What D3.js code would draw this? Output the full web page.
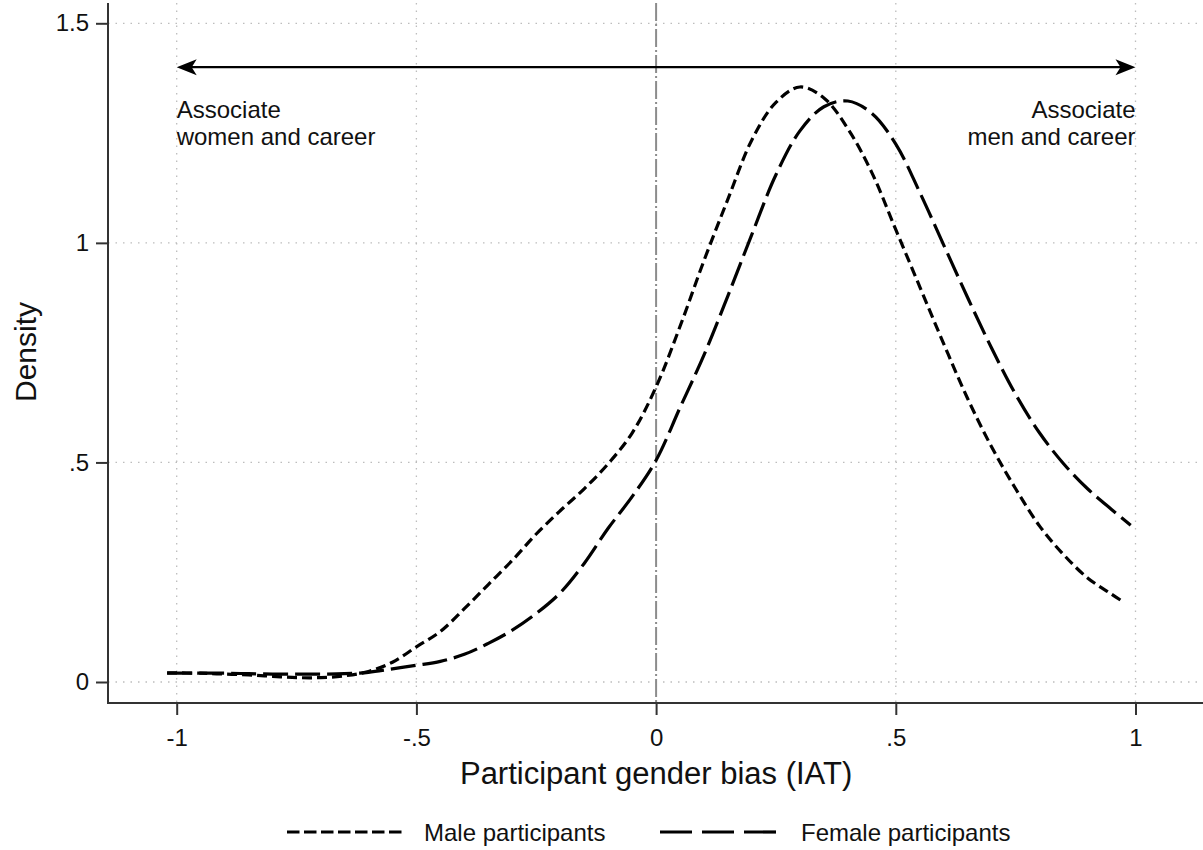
<!DOCTYPE html>
<html>
<head>
<meta charset="utf-8">
<script src="https://cdn.jsdelivr.net/npm/d3@7"></script>
<style>
  html, body { margin: 0; padding: 0; background: #fff; }
  svg { display: block; }
  text { font-family: "Liberation Sans", Arial, sans-serif; fill: #111; }
</style>
</head>
<body>
<svg id="chart" width="1203" height="850"></svg>
<script>
// ---- data ----
const maleX = [-1.02, -0.95, -0.9, -0.85, -0.8, -0.75, -0.7, -0.65, -0.6, -0.55, -0.5, -0.45, -0.4, -0.35, -0.3, -0.25, -0.2, -0.15, -0.1, -0.05, 0, 0.05, 0.1, 0.15, 0.2, 0.25, 0.3, 0.35, 0.4, 0.45, 0.5, 0.55, 0.6, 0.65, 0.7, 0.75, 0.8, 0.85, 0.9, 0.95, 0.975];
const maleY = [0.021, 0.02, 0.018, 0.016, 0.013, 0.01, 0.01, 0.014, 0.024, 0.045, 0.08, 0.115, 0.167, 0.222, 0.277, 0.337, 0.39, 0.44, 0.497, 0.567, 0.672, 0.81, 0.96, 1.10, 1.235, 1.32, 1.355, 1.33, 1.26, 1.16, 1.03, 0.9, 0.77, 0.645, 0.535, 0.44, 0.355, 0.29, 0.237, 0.2, 0.182];
const femaleX = [-1.02, -0.95, -0.9, -0.85, -0.8, -0.75, -0.7, -0.65, -0.6, -0.55, -0.5, -0.45, -0.4, -0.35, -0.3, -0.25, -0.2, -0.15, -0.1, -0.05, 0, 0.05, 0.1, 0.15, 0.2, 0.25, 0.3, 0.35, 0.4, 0.45, 0.5, 0.55, 0.6, 0.65, 0.7, 0.75, 0.8, 0.85, 0.9, 0.95, 0.99];
const femaleY = [0.02, 0.02, 0.02, 0.019, 0.018, 0.018, 0.018, 0.019, 0.022, 0.03, 0.038, 0.047, 0.063, 0.088, 0.118, 0.156, 0.203, 0.27, 0.35, 0.422, 0.505, 0.625, 0.745, 0.88, 1.02, 1.155, 1.255, 1.31, 1.323, 1.295, 1.225, 1.115, 0.995, 0.875, 0.76, 0.655, 0.567, 0.497, 0.44, 0.393, 0.357];
const xTicks = [-1, -0.5, 0, 0.5, 1];
const xTickLabels = ["-1", "-.5", "0", ".5", "1"];
const yTicks = [0, 0.5, 1, 1.5];
const yTickLabels = ["0", ".5", "1", "1.5"];
const seriesNames = ["Male participants", "Female participants"];
const arrowY = 1.4;
const leftNote = ["Associate", "women and career"];
const rightNote = ["Associate", "men and career"];

// ---- layout ----
const svg = d3.select("#chart");
const plotLeft = 108, plotRight = 1203, plotTop = 3, plotBottom = 703;
const x = d3.scaleLinear().domain([-1, 1]).range([176.7, 1135.5]);
const y = d3.scaleLinear().domain([0, 1.5]).range([682, 23.3]);

// gridlines
const grid = svg.append("g");
grid.selectAll("line.hg").data(yTicks).join("line")
  .attr("x1", plotLeft).attr("x2", plotRight)
  .attr("y1", d => y(d)).attr("y2", d => y(d))
  .attr("stroke", "#bdbdbd").attr("stroke-width", 1.3).attr("stroke-dasharray", "1.5,6");
grid.selectAll("line.vg").data(xTicks.filter(d => d !== 0)).join("line")
  .attr("x1", d => x(d)).attr("x2", d => x(d))
  .attr("y1", plotTop).attr("y2", plotBottom)
  .attr("stroke", "#bdbdbd").attr("stroke-width", 1.3).attr("stroke-dasharray", "1.5,6");

// reference line at 0
svg.append("line")
  .attr("x1", x(0)).attr("x2", x(0)).attr("y1", plotTop).attr("y2", plotBottom)
  .attr("stroke", "#8c8c8c").attr("stroke-width", 2)
  .attr("stroke-dasharray", "18,3,2,3");

// axes
const xAxis = d3.axisBottom(x).tickValues(xTicks).tickFormat((d, i) => xTickLabels[i]).tickSize(12).tickPadding(14);
const yAxis = d3.axisLeft(y).tickValues(yTicks).tickFormat((d, i) => yTickLabels[i]).tickSize(12).tickPadding(7);
const gx = svg.append("g").attr("transform", `translate(0,${plotBottom})`).call(xAxis);
const gy = svg.append("g").attr("transform", `translate(${plotLeft},0)`).call(yAxis);
[gx, gy].forEach(g => {
  g.select(".domain").remove();
  g.selectAll(".tick line").attr("stroke", "#333").attr("stroke-width", 2);
  g.selectAll(".tick text").attr("font-size", 24).attr("fill", "#111")
    .style("font-family", "'Liberation Sans', Arial, sans-serif");
});
gx.selectAll(".tick text").attr("dy", "0.71em");
svg.append("line").attr("x1", plotLeft).attr("x2", plotLeft).attr("y1", plotTop).attr("y2", plotBottom + 1)
  .attr("stroke", "#333").attr("stroke-width", 2);
svg.append("line").attr("x1", plotLeft - 1).attr("x2", plotRight).attr("y1", plotBottom).attr("y2", plotBottom)
  .attr("stroke", "#333").attr("stroke-width", 2);

// curves
const line = d3.line().x(d => x(d[0])).y(d => y(d[1])).curve(d3.curveCatmullRom.alpha(0.5));
const maleData = maleX.map((v, i) => [v, maleY[i]]);
const femaleData = femaleX.map((v, i) => [v, femaleY[i]]);
const maleDash = "10,5", femaleDash = "25,7";
svg.append("path").datum(maleData).attr("d", line)
  .attr("fill", "none").attr("stroke", "#000").attr("stroke-width", 3.2).attr("stroke-dasharray", maleDash);
svg.append("path").datum(femaleData).attr("d", line)
  .attr("fill", "none").attr("stroke", "#000").attr("stroke-width", 3.2).attr("stroke-dasharray", femaleDash);

// double arrow
const ay = y(arrowY), ax1 = x(-1), ax2 = x(1);
svg.append("line").attr("x1", ax1 + 10).attr("x2", ax2 - 10).attr("y1", ay).attr("y2", ay)
  .attr("stroke", "#000").attr("stroke-width", 2.2);
svg.append("path").attr("d", `M${ax1},${ay} L${ax1 + 20},${ay - 8} L${ax1 + 15},${ay} L${ax1 + 20},${ay + 8} Z`).attr("fill", "#000");
svg.append("path").attr("d", `M${ax2},${ay} L${ax2 - 20},${ay - 8} L${ax2 - 15},${ay} L${ax2 - 20},${ay + 8} Z`).attr("fill", "#000");

// notes
leftNote.forEach((t, i) => svg.append("text").attr("x", ax1).attr("y", ay + 51 + i * 27)
  .attr("font-size", 24).text(t));
rightNote.forEach((t, i) => svg.append("text").attr("x", ax2).attr("y", ay + 51 + i * 27)
  .attr("font-size", 24).attr("text-anchor", "end").text(t));

// axis titles
svg.append("text").attr("x", x(0)).attr("y", 784).attr("text-anchor", "middle")
  .attr("font-size", 31).text("Participant gender bias (IAT)");
svg.append("text").attr("transform", "translate(36,352) rotate(-90)").attr("text-anchor", "middle")
  .attr("font-size", 30).text("Density");

// legend
const legendY = 832;
const legendItems = [
  { name: seriesNames[0], dash: "12.5,4.5", x1: 287, x2: 405, tx: 424 },
  { name: seriesNames[1], dash: "32,10", x1: 660, x2: 780, tx: 801 }
];
legendItems.forEach(it => {
  svg.append("line").attr("x1", it.x1).attr("x2", it.x2).attr("y1", legendY).attr("y2", legendY)
    .attr("stroke", "#000").attr("stroke-width", 3.2).attr("stroke-dasharray", it.dash);
  svg.append("text").attr("x", it.tx).attr("y", legendY + 9).attr("font-size", 24).text(it.name);
});
</script>
</body>
</html>
